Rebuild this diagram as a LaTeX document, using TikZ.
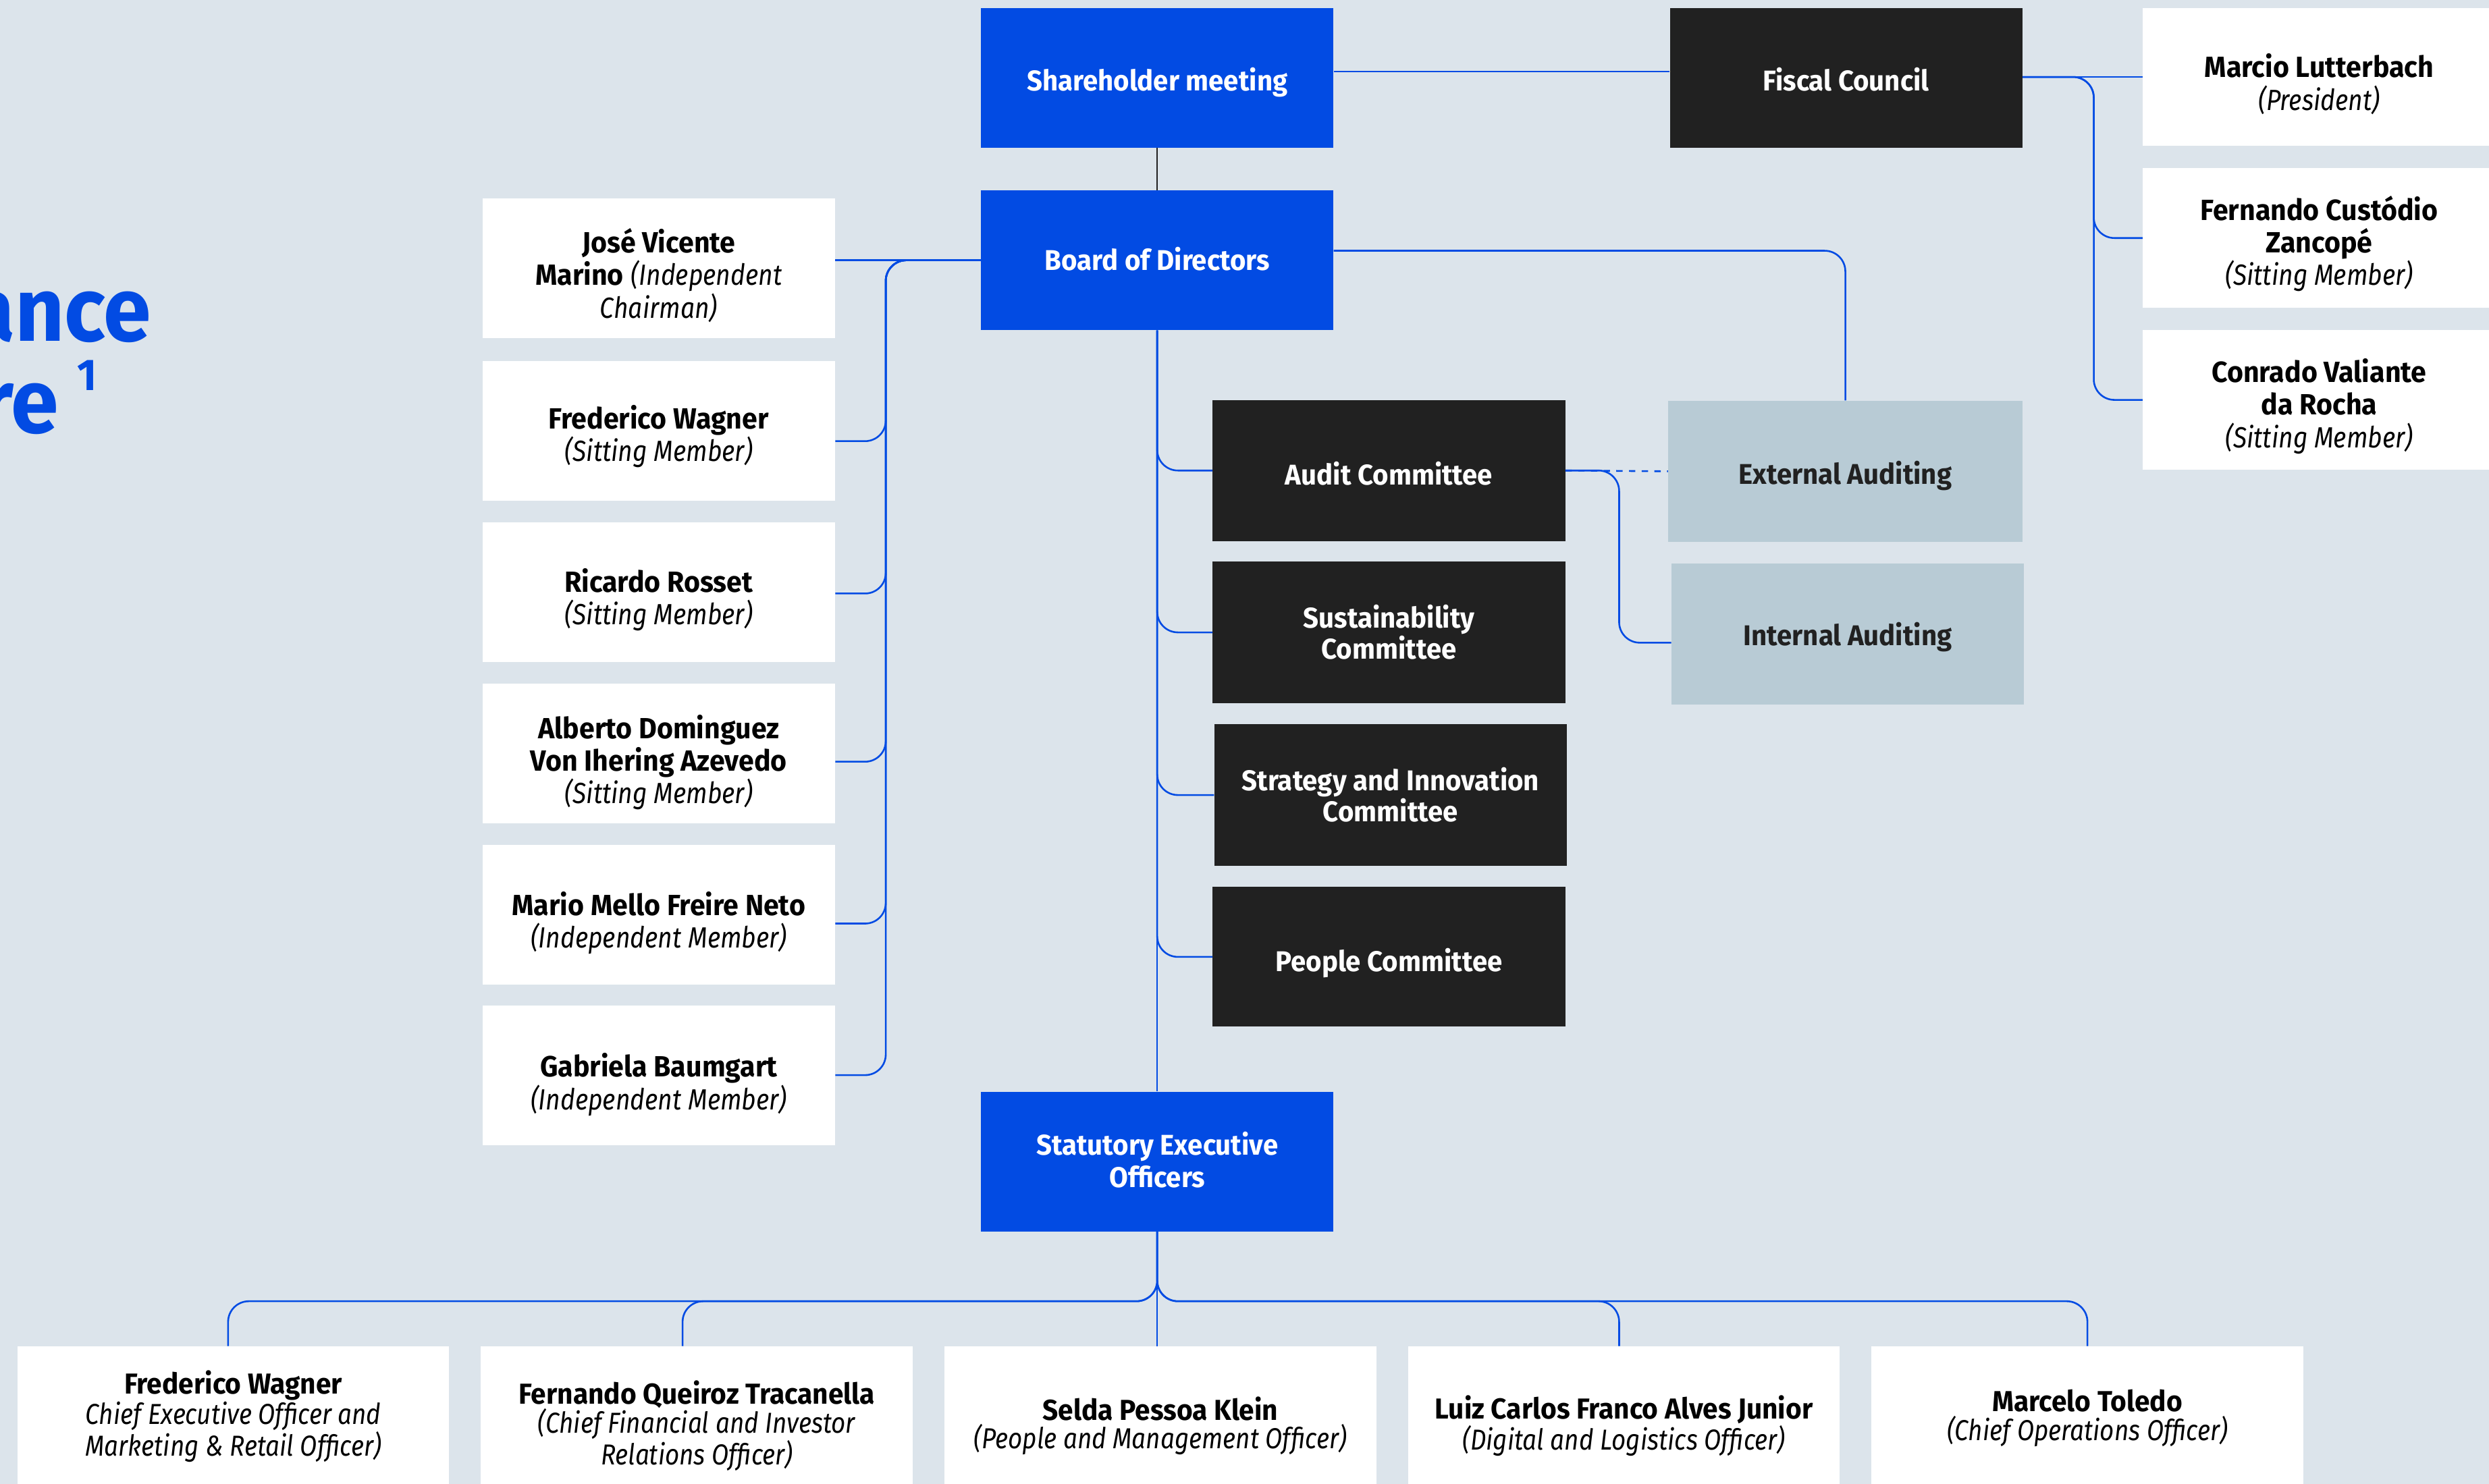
\documentclass[tikz,border=0pt]{standalone}
\usepackage{fontspec}
\setmainfont{Fira Sans}[UprightFeatures={FakeStretch=0.95},BoldFeatures={FakeStretch=0.95},ItalicFeatures={FakeStretch=0.86}]
\definecolor{bg}{RGB}{220,228,235}
\definecolor{vblue}{RGB}{2,75,227}
\definecolor{vdark}{RGB}{33,33,33}
\definecolor{vaudit}{RGB}{184,203,213}
\newcommand{\pname}[1]{\textbf{#1}}
\newcommand{\prole}[1]{\textit{#1}}
% box node + text node: style, name, x, y, text style, down-shift, text
\newcommand{\tbox}[7]{\node[#1] (#2) at (#3,#4) {}; \node[#5] (#2T) at ([yshift=-#6pt]#2.center) {#7};}
\tikzset{
  box/.style={rectangle, minimum width=222pt, minimum height=88pt, inner sep=0pt},
  bluebox/.style={box, fill=vblue},
  darkbox/.style={box, fill=vdark},
  audbox/.style={box, fill=vaudit},
  whitebox/.style={box, fill=white},
  officer/.style={whitebox, minimum width=272pt},
  wtitle/.style={inner sep=0pt, align=center, text=white, font=\fontsize{18}{20.5}\selectfont\bfseries},
  ctitle/.style={wtitle, font=\fontsize{18}{18.4}\selectfont\bfseries},
  dtitle/.style={wtitle, text=vdark},
  memtext/.style={inner sep=0pt, align=center, text=black, font=\fontsize{18.4}{20.5}\selectfont},
  offtext/.style={inner sep=0pt, align=center, text=black, font=\fontsize{18.2}{18.2}\selectfont},
  conn/.style={draw=vblue, line width=1.1pt, rounded corners=13pt},
  blackline/.style={draw=vdark, line width=1.1pt},
  titletext/.style={inner sep=0pt, text=vblue, font=\fontsize{57}{58}\selectfont\bfseries},
}
\begin{document}
\begin{tikzpicture}[x=1pt,y=-1pt]
\useasboundingbox (0,0) rectangle (1568,935);
\clip (0,0) rectangle (1568,935);
\fill[bg] (0,0) rectangle (1568,935);

% title (partly outside the page)
\node[titletext, anchor=base east] (t1) at (95.5,215) {Governance};
\node[titletext, anchor=base east] (t2) at (37,273) {Structure};
\node[titletext, anchor=base west, font=\fontsize{28}{30}\selectfont\bfseries] (t3) at (48.5,246) {1};

% main boxes
\tbox{bluebox}{sh}{729}{49}{wtitle}{3}{Shareholder meeting}
\tbox{bluebox}{board}{729}{164}{wtitle}{-1}{Board of Directors}
\tbox{bluebox}{stat}{729}{732}{wtitle}{-1}{Statutory Executive\\Officers}
\tbox{darkbox}{fiscal}{1163}{49}{wtitle}{1}{Fiscal Council}

% fiscal council members
\tbox{whitebox, minimum height=87pt}{marcio}{1461}{48.5}{memtext}{4.5}{\pname{Marcio Lutterbach}\\\prole{(President)}}
\tbox{whitebox}{fern}{1461}{150}{memtext}{3.5}{\pname{Fernando Custódio}\\\pname{Zancopé}\\\prole{(Sitting Member)}}
\tbox{whitebox}{conr}{1461}{252}{memtext}{4}{\pname{Conrado Valiante}\\\pname{da Rocha}\\\prole{(Sitting Member)}}

% board members
\tbox{whitebox}{jose}{415}{169}{memtext}{4.5}{\pname{José Vicente}\\\pname{Marino} \prole{(Independent}\\\prole{Chairman)}}
\tbox{whitebox}{fred}{415}{271.5}{memtext}{3.5}{\pname{Frederico Wagner}\\\prole{(Sitting Member)}}
\tbox{whitebox}{rica}{415}{373}{memtext}{5}{\pname{Ricardo Rosset}\\\prole{(Sitting Member)}}
\tbox{whitebox}{albe}{415}{475}{memtext}{5.5}{\pname{Alberto Dominguez}\\\pname{Von Ihering Azevedo}\\\prole{(Sitting Member)}}
\tbox{whitebox}{mari}{415}{576.5}{memtext}{5}{\pname{Mario Mello Freire Neto}\\\prole{(Independent Member)}}
\tbox{whitebox}{gabr}{415}{677.5}{memtext}{6}{\pname{Gabriela Baumgart}\\\prole{(Independent Member)}}

% committees
\tbox{darkbox, minimum height=89pt}{audit}{875}{296.5}{ctitle}{2}{Audit Committee}
\tbox{darkbox, minimum height=89pt}{sust}{875}{398.5}{ctitle}{0}{Sustainability\\Committee}
\tbox{darkbox, minimum height=89pt}{strat}{876}{501}{ctitle}{0}{Strategy and Innovation\\Committee}
\tbox{darkbox}{people}{875}{603}{ctitle}{4}{People Committee}

% auditing
\tbox{audbox, minimum width=223pt, minimum height=89pt}{ext}{1162.5}{297}{dtitle}{3}{External Auditing}
\tbox{audbox, minimum height=89pt}{int}{1164}{399.5}{dtitle}{2}{Internal Auditing}

% officers
\tbox{officer}{o1}{147}{892.5}{offtext}{0}{\pname{Frederico Wagner}\\\prole{Chief Executive Officer and}\\\prole{Marketing \& Retail Officer)}}
\tbox{officer}{o2}{439}{892.5}{offtext}{6}{\pname{Fernando Queiroz Tracanella}\\\prole{(Chief Financial and Investor}\\\prole{Relations Officer)}}
\tbox{officer}{o3}{731}{892.5}{offtext}{6}{\pname{Selda Pessoa Klein}\\\prole{(People and Management Officer)}}
\tbox{officer}{o4}{1023}{892.5}{offtext}{6}{\pname{Luiz Carlos Franco Alves Junior}\\\prole{(Digital and Logistics Officer)}}
\tbox{officer}{o5}{1315}{892.5}{offtext}{1}{\pname{Marcelo Toledo}\\\prole{(Chief Operations Officer)}}

% helper coordinates
\coordinate (sL) at (558,0);
\coordinate (sF) at (1319,0);
\coordinate (sA) at (1020,0);
\coordinate (bar) at (0,820);
\coordinate (pS) at ([yshift=4pt]sh.east);
\coordinate (bE) at ([yshift=6pt]board.east);
\coordinate (pF) at ([yshift=-6.5pt]fred.east);
\coordinate (pR) at ([yshift=-1pt]rica.east);
\coordinate (pA) at ([yshift=-5pt]albe.east);
\coordinate (pM) at ([yshift=-5.5pt]mari.east);
\coordinate (pG) at (gabr.east);
\coordinate (pI) at ([yshift=-5.5pt]int.west);
\coordinate (q1) at ([xshift=-3.3pt]o1.north);
\coordinate (q2) at ([xshift=-9pt]o2.north);
\coordinate (q4) at ([xshift=-3pt]o4.north);

% connectors
\draw[blackline] (sh.south) -- (board.north);
\draw[conn] (pS) -- (pS -| fiscal.west);
\draw[conn] (fiscal.east |- marcio.west) -- (marcio.west);
\draw[conn] (fiscal.east |- marcio.west) -| (sF |- fern.west) -- (fern.west);
\draw[conn] (fiscal.east |- marcio.west) -| (sF |- conr.west) -- (conr.west);

\draw[conn] (board.west) -- (board.west -| jose.east);
\foreach \p in {pF,pR,pA,pM,pG}
  \draw[conn] (board.west) -| (sL |- \p) -- (\p);

\draw[conn] (board.south) -- (stat.north);
\foreach \c in {audit,sust,strat,people}
  \draw[conn] (board.south) |- (\c.west);

\draw[conn] (bE) -| (ext.north);
\draw[conn, dash pattern=on 4pt off 4pt] (audit.east) -- (ext.west);
\draw[conn] (audit.east) -| (sA |- pI) -- (pI);

\draw[conn] (stat.south) -- (stat.south |- bar) -| (q1);
\draw[conn] (stat.south) -- (stat.south |- bar) -| (q2);
\draw[conn] (stat.south) -- (stat.south |- o3.north);
\draw[conn] (stat.south) -- (stat.south |- bar) -| (q4);
\draw[conn] (stat.south) -- (stat.south |- bar) -| (o5.north);
\end{tikzpicture}
\end{document}
